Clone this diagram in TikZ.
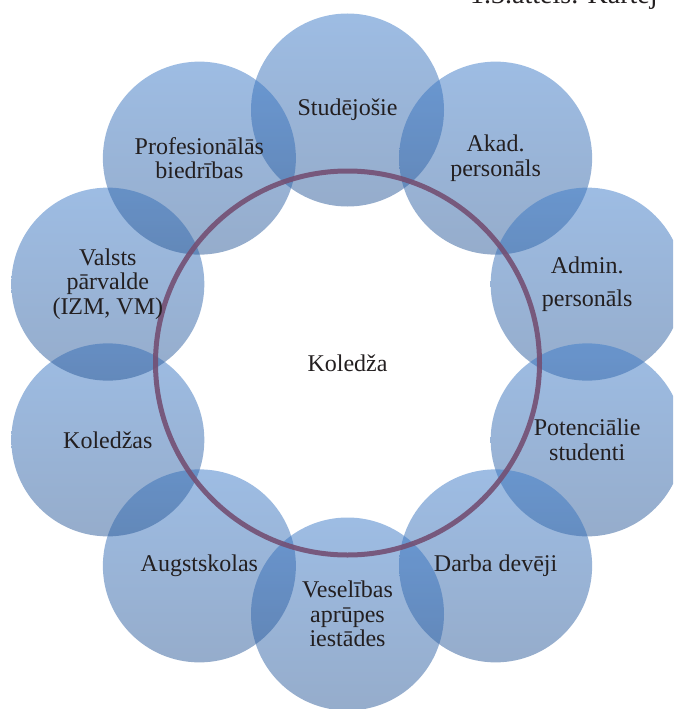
\documentclass[tikz,border=0pt]{standalone}
\usepackage{fontspec}
\setmainfont{Liberation Serif}
\definecolor{bubtop}{RGB}{60,122,200}
\definecolor{bubbot}{RGB}{44,90,152}
\definecolor{ringcol}{RGB}{116,80,116}
\definecolor{txt}{RGB}{35,31,32}
\tikzset{
  bubble/.style={circle, minimum size=193pt, inner sep=0pt, draw=none,
    top color=bubtop, bottom color=bubbot, fill opacity=0.5},
  lab/.style={align=center, text=txt, inner sep=0pt,
    font=\fontsize{24}{24.5}\selectfont},
  ringstyle/.style={circle, minimum size=384pt, inner sep=0pt,
    draw=ringcol, line width=5pt, draw opacity=0.9}
}
\begin{document}
\begin{tikzpicture}[x=1pt,y=-1pt]
\useasboundingbox (0,0) rectangle (673,709);
\clip (0,0) rectangle (673,709);
% caption (cut off at the top, as in the reference)
\node[anchor=base west, text=txt, inner sep=0pt, font=\fontsize{28}{30}\selectfont] (cap) at (470,4) {1.3.attēls. Kartēj};
% bubbles
\foreach \n/\a in {c1/90, c2/54, c3/18, c4/-18, c5/-54, c6/-90, c7/-126, c8/-162, c9/162, c10/126}{
  \node[bubble] (\n) at ({347.5+252*cos(\a)},{362-252*sin(\a)}) {};
}
% ring
\node[ringstyle] (ring) at (347.5,363) {};
% labels
\node[lab] (t1) at (c1.center) {Studējošie};
\node[lab] (t2) at (c2.center) {Akad.\\personāls};
\node[lab] (t3) at (c3.center) {Admin.\\[8pt]personāls};
\node[lab] (t4) at (c4.center) {Potenciālie\\studenti};
\node[lab] (t5) at (c5.center) {Darba devēji};
\node[lab] (t6) at (c6.center) {Veselības\\aprūpes\\iestādes};
\node[lab] (t7) at (c7.center) {Augstskolas};
\node[lab] (t8) at (c8.center) {Koledžas};
\node[lab] (t9) at (c9.center) {Valsts\\pārvalde\\(IZM, VM)};
\node[lab] (t10) at (c10.center) {Profesionālās\\biedrības};
\node[lab] (tc) at (ring.center) {Koledža};
\end{tikzpicture}
\end{document}
